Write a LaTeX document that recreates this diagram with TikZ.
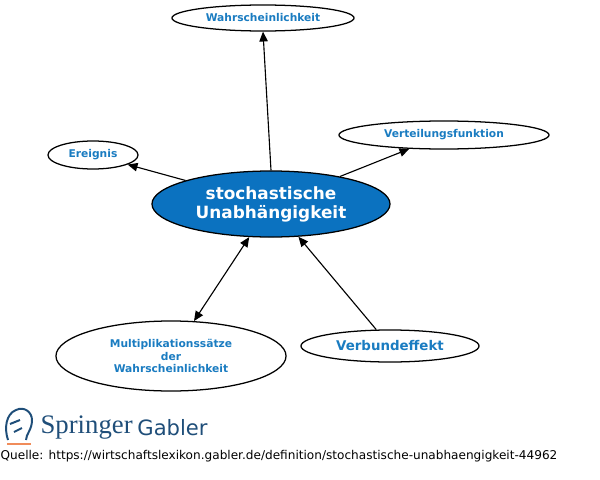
\documentclass[tikz,border=0pt]{standalone}
\usepackage{fontspec}
\setmainfont{DejaVu Sans}
\newfontfamily\logoserif{Liberation Serif}
\usetikzlibrary{arrows.meta,shapes.geometric}
\definecolor{lexblue}{HTML}{1A7CC1}
\definecolor{corefill}{HTML}{0B72C0}
\definecolor{springblue}{HTML}{1F4E79}
\definecolor{springorange}{HTML}{F08C5A}
\begin{document}
\begin{tikzpicture}
[x=0.025cm, y=-0.025cm, line width=0.9pt,
term/.style={ellipse, draw, fill=white, text=lexblue, font=\bfseries\fontsize{7.6}{9}\selectfont, inner sep=0pt, align=center},
core/.style={ellipse, draw, fill=corefill, text=white, font=\bfseries\fontsize{12}{13.5}\selectfont, inner sep=0pt, align=center},
link/.style={-{Triangle[length=7pt, width=6pt]}, line width=0.8pt}
]
\useasboundingbox (0,0) rectangle (600,480);

\node[core, minimum width=5.95cm, minimum height=1.65cm] (core) at (271,204) {stochastische\\Unabhängigkeit};

\node[term, minimum width=4.55cm, minimum height=0.65cm] (wahr) at (263,18) {Wahrscheinlichkeit};
\node[term, minimum width=2.25cm, minimum height=0.7cm] (ereig) at (93,155) {Ereignis};
\node[term, minimum width=5.25cm, minimum height=0.7cm] (vert) at (444,135) {Verteilungsfunktion};
\node[term, minimum width=5.75cm, minimum height=1.75cm] (mult) at (171,356) {Multiplikationssätze\\der\\Wahrscheinlichkeit};
\node[term, minimum width=4.45cm, minimum height=0.8cm, font=\bfseries\fontsize{9.5}{11}\selectfont] (verb) at (390,346) {Verbundeffekt};

\draw[link] (core.north) -- (wahr.south);
\draw[link] (core) -- (ereig);
\draw[link] (core) -- (vert);
\draw[link, {Triangle[length=7pt, width=6pt]}-{Triangle[length=7pt, width=6pt]}] (mult) -- (core);
\draw[link] (verb) -- (core);

% logo
\begin{scope}[line width=1.4pt, draw=springblue]
\draw (8,440) .. controls (4,428) and (6,414) .. (16,410)
  .. controls (24,406) and (32,412) .. (32,420)
  .. controls (32,430) and (26,434) .. (26,440);
\draw (10,424) -- (20,420) (14,432) -- (22,428);
\end{scope}
\draw[springorange, line width=1.5pt] (7,444) -- (31,444);
\node[anchor=west, inner sep=0pt, text=springblue, font=\logoserif\fontsize{19}{20}\selectfont] (spr) at (40,428) {Springer};
\node[anchor=west, inner sep=0pt, text=springblue, font=\fontsize{15}{16}\selectfont] (gab) at (spr.east) {\,Gabler};

\node[anchor=west, inner sep=0pt, font=\fontsize{8.6}{10}\selectfont] (quelle) at (0,456) {Quelle: https://wirtschaftslexikon.gabler.de/definition/stochastische-unabhaengigkeit-44962};
\end{tikzpicture}
\end{document}
